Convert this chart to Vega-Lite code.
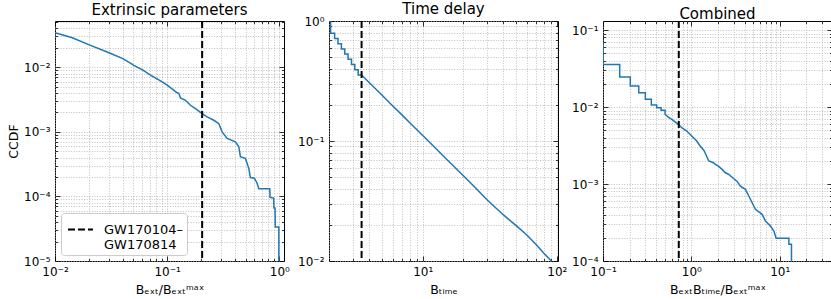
{
  "$schema": "https://vega.github.io/schema/vega-lite/v6.json",
  "background": "white",
  "padding": {"left": 7, "top": 1, "right": 0, "bottom": 0},
  "spacing": 45,
  "bounds": "flush",
  "config": {
    "font": "DejaVu Sans",
    "view": {"stroke": "black", "strokeWidth": 1},
    "axis": {
      "labelFont": "DejaVu Sans", "labelFontSize": 12, "labelColor": "black",
      "titleFont": "DejaVu Sans", "titleFontSize": 12.5, "titleFontWeight": "normal", "titleColor": "black",
      "domain": false, "tickColor": "black", "tickWidth": 0.8,
      "gridColor": "#b0b0b0", "gridDash": [1, 1.6], "gridWidth": 0.8,
      "labelOverlap": false, "labelFlush": false, "labelBound": false
    },
    "legend": {"labelFont": "DejaVu Sans", "labelFontSize": 13, "labelColor": "black"},
    "title": {"font": "DejaVu Sans", "fontSize": 15, "fontWeight": "normal", "color": "black", "offset": -2}
  },
  "hconcat": [
    {
      "width": 229, "height": 240,
      "title": "Extrinsic parameters",
      "layer": [
        {
          "data": {"name": "ext", "values": [
            {"x": 0.01, "y": 0.0342}, {"x": 0.01426, "y": 0.0286}, {"x": 0.0197, "y": 0.0226}, {"x": 0.0303, "y": 0.0168},
            {"x": 0.0403, "y": 0.0136}, {"x": 0.0505, "y": 0.0107}, {"x": 0.0608, "y": 0.0090}, {"x": 0.071, "y": 0.00753},
            {"x": 0.0902, "y": 0.00594}, {"x": 0.1, "y": 0.00528}, {"x": 0.1227, "y": 0.00402}, {"x": 0.127, "y": 0.00394},
            {"x": 0.1313, "y": 0.00334}, {"x": 0.1455, "y": 0.00308}, {"x": 0.1612, "y": 0.00258}, {"x": 0.1787, "y": 0.00228},
            {"x": 0.205, "y": 0.00191}, {"x": 0.227, "y": 0.0017}, {"x": 0.2606, "y": 0.00151}, {"x": 0.2887, "y": 0.00134},
            {"x": 0.309, "y": 0.001}, {"x": 0.342, "y": 0.000789}, {"x": 0.4057, "y": 0.000702}, {"x": 0.435, "y": 0.000588},
            {"x": 0.4495, "y": 0.000412}, {"x": 0.498, "y": 0.000388}, {"x": 0.534, "y": 0.000272}, {"x": 0.552, "y": 0.000196},
            {"x": 0.599, "y": 0.000191}, {"x": 0.633, "y": 0.00016}, {"x": 0.656, "y": 0.000131}, {"x": 0.821, "y": 0.000131},
            {"x": 0.826, "y": 0.0000966}, {"x": 0.8896, "y": 0.0000943}, {"x": 0.895, "y": 0.0000661}, {"x": 0.915, "y": 0.0000661},
            {"x": 0.92, "y": 0.0000337}, {"x": 0.99, "y": 0.0000337}, {"x": 0.99, "y": 0.000005}
          ]},
          "mark": {"type": "line", "color": "#1f77b4", "strokeWidth": 1.5, "clip": true},
          "encoding": {
            "x": {"field": "x", "type": "quantitative", "scale": {"type": "log", "domain": [0.01, 1.1], "nice": false},
              "axis": {"title": "Bₑₓₜ/Bₑₓₜᵐᵃˣ", "values": [0.01,0.02,0.03,0.04,0.05,0.06,0.07,0.08,0.09,0.1,0.2,0.3,0.4,0.5,0.6,0.7,0.8,0.9,1],
                "labelExpr": "abs(log(datum.value)/LN10 - round(log(datum.value)/LN10)) < 1e-6 ? '10' + (round(log(datum.value)/LN10) < 0 ? '⁻' : '') + ['⁰','¹','²','³','⁴','⁵'][abs(round(log(datum.value)/LN10))] : ''",
                "tickSize": {"condition": {"test": "abs(log(datum.value)/LN10 - round(log(datum.value)/LN10)) < 1e-6", "value": -5}, "value": -2.5},
                "grid": true, "labelPadding": 10, "titlePadding": 4}},
            "y": {"field": "y", "type": "quantitative", "scale": {"type": "log", "domain": [0.00001, 0.052], "nice": false},
              "axis": {"title": "CCDF", "values": [0.00001,0.00002,0.00003,0.00004,0.00005,0.00006,0.00007,0.00008,0.00009,0.0001,0.0002,0.0003,0.0004,0.0005,0.0006,0.0007,0.0008,0.0009,0.001,0.002,0.003,0.004,0.005,0.006,0.007,0.008,0.009,0.01,0.02,0.03,0.04,0.05],
                "labelExpr": "abs(log(datum.value)/LN10 - round(log(datum.value)/LN10)) < 1e-6 ? '10' + (round(log(datum.value)/LN10) < 0 ? '⁻' : '') + ['⁰','¹','²','³','⁴','⁵'][abs(round(log(datum.value)/LN10))] : ''",
                "tickSize": {"condition": {"test": "abs(log(datum.value)/LN10 - round(log(datum.value)/LN10)) < 1e-6", "value": -5}, "value": -2.5},
                "grid": true, "labelPadding": 10, "titlePadding": 3}}
          }
        },
        {
          "data": {"name": "ext"},
          "mark": {"type": "line", "opacity": 0},
          "encoding": {
            "x": {"field": "x", "type": "quantitative", "scale": {"type": "log", "domain": [0.01, 1.1], "nice": false},
              "axis": {"orient": "top", "title": null, "labels": false, "grid": false, "values": [0.01,0.02,0.03,0.04,0.05,0.06,0.07,0.08,0.09,0.1,0.2,0.3,0.4,0.5,0.6,0.7,0.8,0.9,1],
                "tickSize": {"condition": {"test": "abs(log(datum.value)/LN10 - round(log(datum.value)/LN10)) < 1e-6", "value": -5}, "value": -2.5}}},
            "y": {"field": "y", "type": "quantitative", "scale": {"type": "log", "domain": [0.00001, 0.052], "nice": false},
              "axis": {"orient": "right", "title": null, "labels": false, "grid": false, "values": [0.00001,0.00002,0.00003,0.00004,0.00005,0.00006,0.00007,0.00008,0.00009,0.0001,0.0002,0.0003,0.0004,0.0005,0.0006,0.0007,0.0008,0.0009,0.001,0.002,0.003,0.004,0.005,0.006,0.007,0.008,0.009,0.01,0.02,0.03,0.04,0.05],
                "tickSize": {"condition": {"test": "abs(log(datum.value)/LN10 - round(log(datum.value)/LN10)) < 1e-6", "value": -5}, "value": -2.5}}}
          }
        },
        {
          "data": {"values": [{"x": 0.205, "event": "GW170104–GW170814"}]},
          "mark": {"type": "rule", "color": "black", "strokeWidth": 2},
          "encoding": {
            "x": {"field": "x", "type": "quantitative", "scale": {"type": "log", "domain": [0.01, 1.1], "nice": false}, "axis": null},
            "strokeDash": {"field": "event", "type": "nominal", "scale": {"domain": ["GW170104–GW170814"], "range": [[7, 3]]},
              "legend": {"title": null, "orient": "bottom-left", "offset": 6, "padding": 3, "strokeColor": "#cccccc", "fillColor": "white",
                "cornerRadius": 3, "symbolType": "stroke", "symbolSize": 625, "symbolStrokeWidth": 2, "symbolStrokeColor": "black",
                "symbolOffset": 3,
                "labelFontSize": 13, "labelFont": "DejaVu Sans", "labelColor": "black", "labelLimit": 0, "labelOffset": 10,
                "labelExpr": "['GW170104–', 'GW170814']"}}
          }
        }
      ],
      "resolve": {"axis": {"x": "independent", "y": "independent"}}
    },
    {
      "width": 229, "height": 240,
      "title": "Time delay",
      "layer": [
        {
          "data": {"name": "time", "values": [
            {"x": 2.056, "y": 1.0}, {"x": 2.056, "y": 0.79}, {"x": 2.203, "y": 0.79}, {"x": 2.203, "y": 0.715},
            {"x": 2.333, "y": 0.715}, {"x": 2.333, "y": 0.647}, {"x": 2.475, "y": 0.647}, {"x": 2.475, "y": 0.585},
            {"x": 2.62, "y": 0.585}, {"x": 2.62, "y": 0.53}, {"x": 2.775, "y": 0.53}, {"x": 2.775, "y": 0.479},
            {"x": 2.943, "y": 0.479}, {"x": 2.943, "y": 0.434}, {"x": 3.116, "y": 0.434}, {"x": 3.116, "y": 0.393},
            {"x": 3.3, "y": 0.393}, {"x": 3.3, "y": 0.355}, {"x": 3.5, "y": 0.355}, {"x": 4, "y": 0.306},
            {"x": 5, "y": 0.239}, {"x": 6, "y": 0.195}, {"x": 7, "y": 0.165}, {"x": 8, "y": 0.142},
            {"x": 10, "y": 0.111}, {"x": 12, "y": 0.0907}, {"x": 15, "y": 0.0708}, {"x": 20, "y": 0.0515},
            {"x": 25, "y": 0.0402}, {"x": 30, "y": 0.0325}, {"x": 40, "y": 0.0242}, {"x": 50, "y": 0.0196},
            {"x": 60, "y": 0.0164}, {"x": 70, "y": 0.0137}, {"x": 80, "y": 0.0116}, {"x": 91, "y": 0.0100},
            {"x": 95, "y": 0.0095}
          ]},
          "mark": {"type": "line", "color": "#1f77b4", "strokeWidth": 1.5, "clip": true},
          "encoding": {
            "x": {"field": "x", "type": "quantitative", "scale": {"type": "log", "domain": [2, 102], "nice": false},
              "axis": {"title": "Bₜᵢₘₑ", "values": [2,3,4,5,6,7,8,9,10,20,30,40,50,60,70,80,90,100],
                "labelExpr": "abs(log(datum.value)/LN10 - round(log(datum.value)/LN10)) < 1e-6 ? '10' + (round(log(datum.value)/LN10) < 0 ? '⁻' : '') + ['⁰','¹','²','³','⁴','⁵'][abs(round(log(datum.value)/LN10))] : ''",
                "tickSize": {"condition": {"test": "abs(log(datum.value)/LN10 - round(log(datum.value)/LN10)) < 1e-6", "value": -5}, "value": -2.5},
                "grid": true, "labelPadding": 10, "titlePadding": 4}},
            "y": {"field": "y", "type": "quantitative", "scale": {"type": "log", "domain": [0.01, 1], "nice": false},
              "axis": {"title": null, "values": [0.01,0.02,0.03,0.04,0.05,0.06,0.07,0.08,0.09,0.1,0.2,0.3,0.4,0.5,0.6,0.7,0.8,0.9,1],
                "labelExpr": "abs(log(datum.value)/LN10 - round(log(datum.value)/LN10)) < 1e-6 ? '10' + (round(log(datum.value)/LN10) < 0 ? '⁻' : '') + ['⁰','¹','²','³','⁴','⁵'][abs(round(log(datum.value)/LN10))] : ''",
                "tickSize": {"condition": {"test": "abs(log(datum.value)/LN10 - round(log(datum.value)/LN10)) < 1e-6", "value": -5}, "value": -2.5},
                "grid": true, "labelPadding": 10}}
          }
        },
        {
          "data": {"name": "time"},
          "mark": {"type": "line", "opacity": 0},
          "encoding": {
            "x": {"field": "x", "type": "quantitative", "scale": {"type": "log", "domain": [2, 102], "nice": false},
              "axis": {"orient": "top", "title": null, "labels": false, "grid": false, "values": [2,3,4,5,6,7,8,9,10,20,30,40,50,60,70,80,90,100],
                "tickSize": {"condition": {"test": "abs(log(datum.value)/LN10 - round(log(datum.value)/LN10)) < 1e-6", "value": -5}, "value": -2.5}}},
            "y": {"field": "y", "type": "quantitative", "scale": {"type": "log", "domain": [0.01, 1], "nice": false},
              "axis": {"orient": "right", "title": null, "labels": false, "grid": false, "values": [0.01,0.02,0.03,0.04,0.05,0.06,0.07,0.08,0.09,0.1,0.2,0.3,0.4,0.5,0.6,0.7,0.8,0.9,1],
                "tickSize": {"condition": {"test": "abs(log(datum.value)/LN10 - round(log(datum.value)/LN10)) < 1e-6", "value": -5}, "value": -2.5}}}
          }
        },
        {
          "data": {"values": [{"x": 3.5}]},
          "mark": {"type": "rule", "color": "black", "strokeWidth": 2, "strokeDash": [7, 3]},
          "encoding": {
            "x": {"field": "x", "type": "quantitative", "scale": {"type": "log", "domain": [2, 102], "nice": false}, "axis": null}
          }
        }
      ],
      "resolve": {"axis": {"x": "independent", "y": "independent"}}
    },
    {
      "width": 229, "height": 240,
      "title": "Combined",
      "layer": [
        {
          "data": {"name": "comb", "values": [
            {"x": 0.09, "y": 0.066}, {"x": 0.1003, "y": 0.066}, {"x": 0.1003, "y": 0.0358}, {"x": 0.1545, "y": 0.0358},
            {"x": 0.1545, "y": 0.0245}, {"x": 0.2037, "y": 0.0245}, {"x": 0.2037, "y": 0.01874}, {"x": 0.2537, "y": 0.01874},
            {"x": 0.2537, "y": 0.01533}, {"x": 0.3013, "y": 0.01533}, {"x": 0.3013, "y": 0.0126}, {"x": 0.3524, "y": 0.0126},
            {"x": 0.3524, "y": 0.0106}, {"x": 0.405, "y": 0.0106}, {"x": 0.405, "y": 0.0098}, {"x": 0.454, "y": 0.0098},
            {"x": 0.454, "y": 0.0091}, {"x": 0.504, "y": 0.0091}, {"x": 0.504, "y": 0.0080}, {"x": 0.549, "y": 0.0074},
            {"x": 0.600, "y": 0.00692}, {"x": 0.712, "y": 0.00596}, {"x": 0.778, "y": 0.00538}, {"x": 0.887, "y": 0.00488},
            {"x": 1.01, "y": 0.0042}, {"x": 1.151, "y": 0.00361}, {"x": 1.254, "y": 0.00312}, {"x": 1.382, "y": 0.00275},
            {"x": 1.429, "y": 0.00255}, {"x": 1.574, "y": 0.00199}, {"x": 1.775, "y": 0.00189}, {"x": 1.87, "y": 0.0018},
            {"x": 2.022, "y": 0.00171}, {"x": 2.227, "y": 0.00155}, {"x": 2.427, "y": 0.0014}, {"x": 2.624, "y": 0.00134},
            {"x": 3.0, "y": 0.00118}, {"x": 3.29, "y": 0.00108}, {"x": 3.59, "y": 0.00094}, {"x": 4.088, "y": 0.000853},
            {"x": 4.467, "y": 0.000698}, {"x": 4.868, "y": 0.000571}, {"x": 5.307, "y": 0.000469}, {"x": 6.32, "y": 0.000404},
            {"x": 6.887, "y": 0.00033}, {"x": 7.848, "y": 0.000285}, {"x": 8.576, "y": 0.000245}, {"x": 9.105, "y": 0.000197},
            {"x": 12.68, "y": 0.000197}, {"x": 12.68, "y": 0.000165}, {"x": 13.57, "y": 0.000165}, {"x": 13.57, "y": 0.00009}
          ]},
          "mark": {"type": "line", "color": "#1f77b4", "strokeWidth": 1.5, "clip": true},
          "encoding": {
            "x": {"field": "x", "type": "quantitative", "scale": {"type": "log", "domain": [0.1, 39], "nice": false},
              "axis": {"title": "BₑₓₜBₜᵢₘₑ/Bₑₓₜᵐᵃˣ", "values": [0.1,0.2,0.3,0.4,0.5,0.6,0.7,0.8,0.9,1,2,3,4,5,6,7,8,9,10,20,30],
                "labelExpr": "abs(log(datum.value)/LN10 - round(log(datum.value)/LN10)) < 1e-6 ? '10' + (round(log(datum.value)/LN10) < 0 ? '⁻' : '') + ['⁰','¹','²','³','⁴','⁵'][abs(round(log(datum.value)/LN10))] : ''",
                "tickSize": {"condition": {"test": "abs(log(datum.value)/LN10 - round(log(datum.value)/LN10)) < 1e-6", "value": -5}, "value": -2.5},
                "grid": true, "labelPadding": 10, "titlePadding": 4}},
            "y": {"field": "y", "type": "quantitative", "scale": {"type": "log", "domain": [0.0001, 0.131], "nice": false},
              "axis": {"title": null, "values": [0.0001,0.0002,0.0003,0.0004,0.0005,0.0006,0.0007,0.0008,0.0009,0.001,0.002,0.003,0.004,0.005,0.006,0.007,0.008,0.009,0.01,0.02,0.03,0.04,0.05,0.06,0.07,0.08,0.09,0.1],
                "labelExpr": "abs(log(datum.value)/LN10 - round(log(datum.value)/LN10)) < 1e-6 ? '10' + (round(log(datum.value)/LN10) < 0 ? '⁻' : '') + ['⁰','¹','²','³','⁴','⁵'][abs(round(log(datum.value)/LN10))] : ''",
                "tickSize": {"condition": {"test": "abs(log(datum.value)/LN10 - round(log(datum.value)/LN10)) < 1e-6", "value": -5}, "value": -2.5},
                "grid": true, "labelPadding": 10}}
          }
        },
        {
          "data": {"name": "comb"},
          "mark": {"type": "line", "opacity": 0},
          "encoding": {
            "x": {"field": "x", "type": "quantitative", "scale": {"type": "log", "domain": [0.1, 39], "nice": false},
              "axis": {"orient": "top", "title": null, "labels": false, "grid": false, "values": [0.1,0.2,0.3,0.4,0.5,0.6,0.7,0.8,0.9,1,2,3,4,5,6,7,8,9,10,20,30],
                "tickSize": {"condition": {"test": "abs(log(datum.value)/LN10 - round(log(datum.value)/LN10)) < 1e-6", "value": -5}, "value": -2.5}}},
            "y": {"field": "y", "type": "quantitative", "scale": {"type": "log", "domain": [0.0001, 0.131], "nice": false},
              "axis": {"orient": "right", "title": null, "labels": false, "grid": false, "values": [0.0001,0.0002,0.0003,0.0004,0.0005,0.0006,0.0007,0.0008,0.0009,0.001,0.002,0.003,0.004,0.005,0.006,0.007,0.008,0.009,0.01,0.02,0.03,0.04,0.05,0.06,0.07,0.08,0.09,0.1],
                "tickSize": {"condition": {"test": "abs(log(datum.value)/LN10 - round(log(datum.value)/LN10)) < 1e-6", "value": -5}, "value": -2.5}}}
          }
        },
        {
          "data": {"values": [{"x": 0.72}]},
          "mark": {"type": "rule", "color": "black", "strokeWidth": 2, "strokeDash": [7, 3]},
          "encoding": {
            "x": {"field": "x", "type": "quantitative", "scale": {"type": "log", "domain": [0.1, 39], "nice": false}, "axis": null}
          }
        }
      ],
      "resolve": {"axis": {"x": "independent", "y": "independent"}}
    }
  ]
}
